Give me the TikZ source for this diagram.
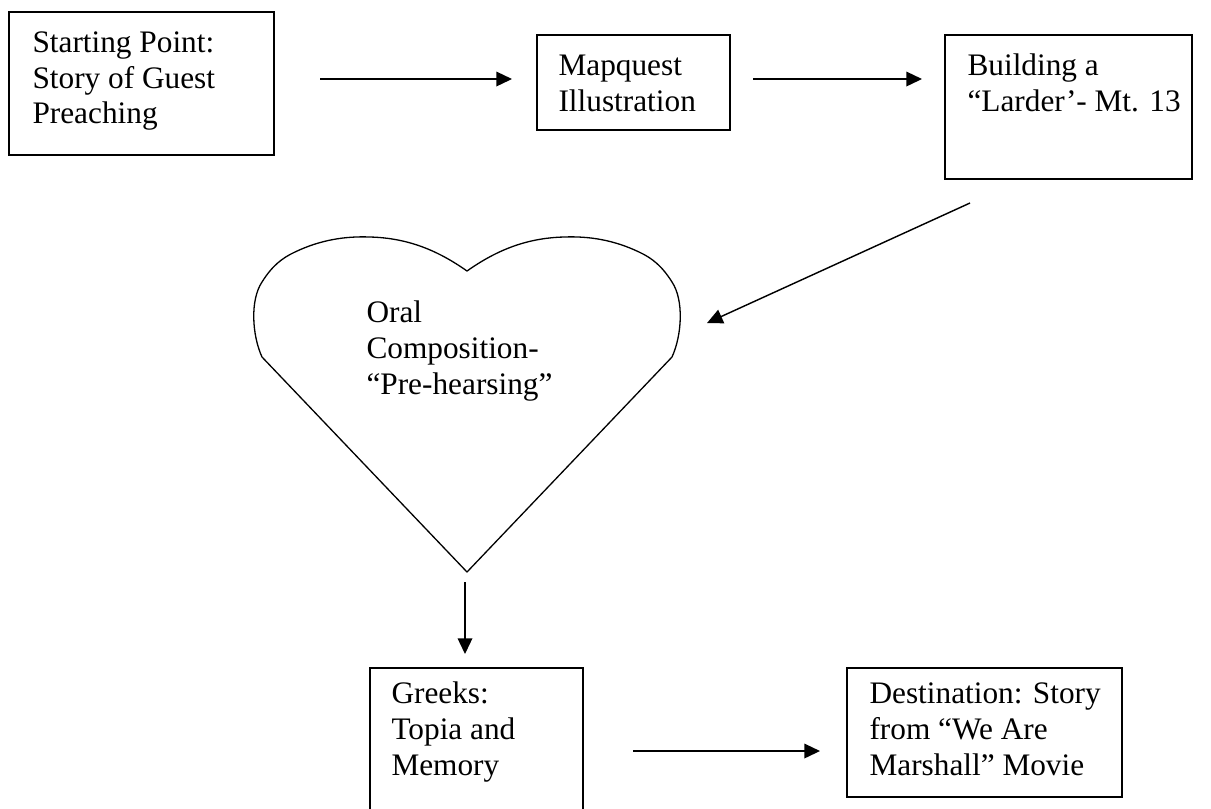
\documentclass[tikz,border=0pt]{standalone}
\usepackage{fontspec}
\setmainfont{Liberation Serif}
\usetikzlibrary{arrows.meta,fit}
\begin{document}
\begin{tikzpicture}[x=0.3834pt,y=-0.3834pt,
  box/.style={draw, line width=0.65pt, inner sep=0pt},
  txt/.style={anchor=base west, inner sep=0pt, font=\fontsize{12}{13.8}\selectfont},
  arr/.style={line width=0.55pt, -{Triangle[length=6pt,width=5.6pt]}},
  heartline/.style={line width=0.5pt, line join=round}]
\useasboundingbox (0,0) rectangle (1211,808);
\clip (0,0) rectangle (1211,808);
% boxes
\node[box, fit={(9,12) (274,155)}] (b1) {};
\node[box, fit={(537,35) (730,130)}] (b2) {};
\node[box, fit={(945,35) (1192,179)}] (b3) {};
\node[box, fit={(370,668) (583,840)}] (b4) {};
\node[box, fit={(847,668) (1122,797)}] (b5) {};
% texts
\newcommand{\lines}[1]{\begin{tabular}[t]{@{}l@{}}#1\end{tabular}}
\node[txt] (t1) at (32,52) {\lines{Starting Point:\\Story of Guest\\Preaching}};
\node[txt] (t2) at (558,75) {\lines{Mapquest\\Illustration}};
\node[txt] (t3) at (967,75) {\lines{Building a\\“Larder’- Mt. 13}};
\node[txt] (t4) at (391,703) {\lines{Greeks:\\Topia and\\Memory}};
\node[txt] (t5) at (869,703) {\lines{Destination: Story\\from “We Are\\Marshall” Movie}};
% heart
\draw[heartline] (467,572) -- (262,357)
  .. controls (252,335) and (250,300) .. (262,282)
  .. controls (272,266) and (282,258) .. (295,252)
  .. controls (320,240) and (345,236) .. (370,237)
  .. controls (410,238) and (440,252) .. (467,271)
  .. controls (494,252) and (524,238) .. (564,237)
  .. controls (589,236) and (614,240) .. (639,252)
  .. controls (652,258) and (662,266) .. (672,282)
  .. controls (684,300) and (682,335) .. (672,357) -- cycle;
\coordinate (hearttip) at (467,572);
\node[txt] (th) at (366,322) {\lines{Oral\\Composition-\\“Pre-hearsing”}};
% arrows
\coordinate (a1s) at (320,79); \coordinate (a1e) at (512,79);
\coordinate (a2s) at (753,79); \coordinate (a2e) at (922,79);
\coordinate (a3s) at (970,203); \coordinate (a3e) at (707,323);
\coordinate (a4s) at (465,582); \coordinate (a4e) at (465,654);
\coordinate (a5s) at (633,751); \coordinate (a5e) at (820,751);
\draw[arr] (a1s) -- (a1e);
\draw[arr] (a2s) -- (a2e);
\draw[arr] (a3s) -- (a3e);
\draw[arr] (a4s) -- (a4e);
\draw[arr] (a5s) -- (a5e);
\end{tikzpicture}
\end{document}
